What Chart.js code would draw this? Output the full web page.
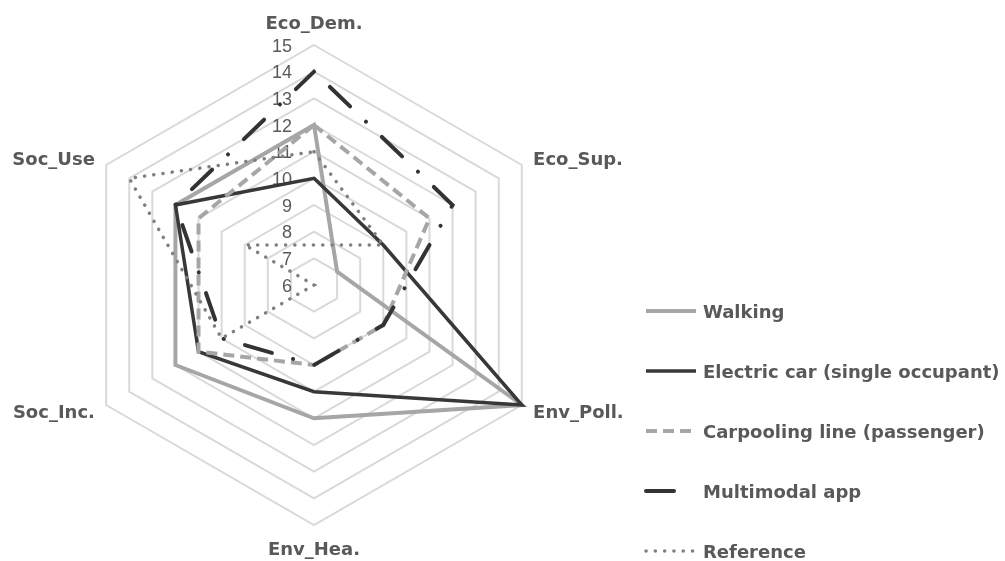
<!DOCTYPE html>
<html>
<head>
<meta charset="utf-8">
<script src="https://cdn.jsdelivr.net/npm/chart.js@4"></script>
<style>
html,body{margin:0;padding:0;background:#fff;}
#wrap{position:relative;width:1005px;height:561px;}
</style>
</head>
<body>
<div id="wrap"><canvas id="radar-chart"></canvas></div>
<script>
// axis categories and series
var axes = ['Eco_Dem.', 'Eco_Sup.', 'Env_Poll.', 'Env_Hea.', 'Soc_Inc.', 'Soc_Use'];
var walking = [12, 7, 15, 11, 12, 12];
var electricCar = [10, 9, 15, 10, 11, 12];
var carpooling = [12, 11, 9, 9, 11, 11];
var multimodal = [14, 12, 9, 9, 10, 12];
var reference = [11, 9, 3, 6, 10, 14];
var tickValues = [6, 7, 8, 9, 10, 11, 12, 13, 14, 15];

var textGray = '#595959';

// tick labels sit under the lines, axis names and legend on top
var radarText = {
    id: 'radarText',
    beforeDatasetsDraw: function(chart) {
        var ctx = chart.ctx, r = chart.scales.r;
        ctx.save();
        ctx.fillStyle = textGray;
        ctx.font = '18px "Liberation Sans", Arial, sans-serif';
        ctx.textAlign = 'right';
        ctx.textBaseline = 'alphabetic';
        r.ticks.forEach(function(t) {
            var p = r.getPointPositionForValue(0, t.value);
            ctx.fillText(t.label, p.x - 22, p.y + 6.5);
        });
        ctx.restore();
    },
    afterDraw: function(chart) {
        var ctx = chart.ctx, r = chart.scales.r;
        ctx.save();
        ctx.fillStyle = textGray;
        ctx.textBaseline = 'alphabetic';
        ctx.font = 'bold 18px "DejaVu Sans", sans-serif';
        axes.forEach(function(name, i) {
            var vertical = (i === 0 || i === 3);
            var p = r.getPointPosition(i, r.drawingArea + (vertical ? 23 : 13));
            ctx.textAlign = vertical ? 'center' : (p.x > r.xCenter ? 'left' : 'right');
            ctx.fillText(name, p.x, p.y + 6.6);
        });

        // legend
        var top = 311, gap = 60, x0 = 646, w = 50, tx = 703;
        chart.data.datasets.forEach(function(ds, i) {
            var y = top + i * gap;
            ctx.save();
            ctx.strokeStyle = ds.borderColor;
            ctx.lineWidth = ds.borderWidth;
            ctx.lineCap = ds.borderCapStyle || 'butt';
            ctx.setLineDash(ds.borderDash || []);
            ctx.lineDashOffset = ds.legendDashOffset || 0;
            ctx.beginPath();
            ctx.moveTo(x0, y);
            ctx.lineTo(x0 + (ds.legendLength || w), y);
            ctx.stroke();
            ctx.restore();
            ctx.textAlign = 'left';
            ctx.fillText(ds.label, tx, y + 6.6);
        });
        ctx.restore();
    }
};

var ctx = document.getElementById('radar-chart').getContext('2d');
new Chart(ctx, {
    type: 'radar',
    data: {
        labels: axes,
        datasets: [
            {
                label: 'Walking',
                data: walking,
                borderColor: '#a6a6a6',
                borderWidth: 4,
                order: 5
            },
            {
                label: 'Electric car (single occupant)',
                data: electricCar,
                borderColor: '#383838',
                borderWidth: 3.5,
                order: 4
            },
            {
                label: 'Carpooling line (passenger)',
                data: carpooling,
                borderColor: '#a6a6a6',
                borderWidth: 4,
                borderDash: [11, 6],
                order: 3
            },
            {
                label: 'Multimodal app',
                data: multimodal,
                borderColor: '#333333',
                borderWidth: 4,
                borderDash: [0.1, 22, 28, 22],
                borderCapStyle: 'round',
                legendDashOffset: 22.1,
                legendLength: 36,
                order: 2
            },
            {
                label: 'Reference',
                data: reference,
                borderColor: '#7f7f7f',
                borderWidth: 3.5,
                borderDash: [0.1, 9.2],
                borderCapStyle: 'round',
                order: 1
            }
        ]
    },
    options: {
        responsive: true,
        maintainAspectRatio: false,
        animation: false,
        layout: { padding: { left: 74, top: 45, right: 451, bottom: 36 } },
        plugins: {
            legend: { display: false },
            tooltip: { enabled: false }
        },
        elements: {
            point: { radius: 0, hoverRadius: 0 },
            line: { tension: 0, fill: false, backgroundColor: 'transparent' }
        },
        scales: {
            r: {
                min: tickValues[0],
                max: tickValues[tickValues.length - 1],
                afterBuildTicks: function(scale) {
                    scale.ticks = tickValues.map(function(v) { return { value: v }; });
                },
                ticks: { display: false },
                grid: { color: '#d9d9d9', lineWidth: 2 },
                angleLines: { display: false },
                pointLabels: { display: false }
            }
        }
    },
    plugins: [radarText]
});
</script>
</body>
</html>
